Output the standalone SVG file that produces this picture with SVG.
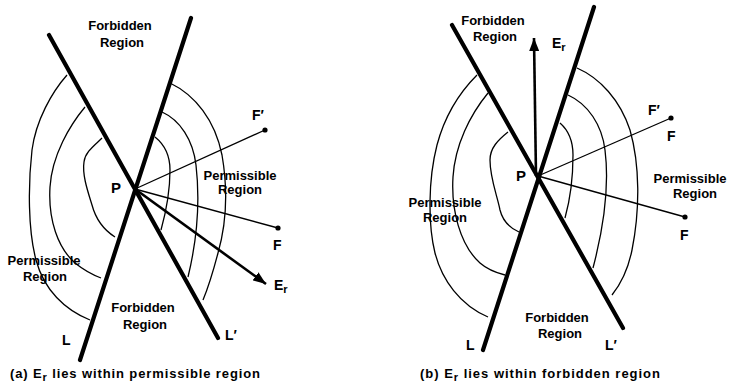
<svg xmlns="http://www.w3.org/2000/svg" width="733" height="384" viewBox="0 0 733 384">
<style>
.thick{stroke:#000;stroke-width:4.2;stroke-linecap:round;fill:none}
.thin{stroke:#000;stroke-width:1.3;fill:none}
.arr{stroke:#000;stroke-width:2.6;fill:none}
text{font-family:"Liberation Sans",Arial,sans-serif;font-weight:bold;fill:#000}
.lb{font-size:13px}
.mid{text-anchor:middle}
.ltr{font-size:14px}
.cap{font-size:13px}
</style>
<defs>
<marker id="ah" markerUnits="userSpaceOnUse" markerWidth="14" markerHeight="10" refX="13" refY="5" orient="auto">
<path d="M0,0 L13,5 L0,10 z" fill="#000"/>
</marker>
</defs>
<rect width="733" height="384" fill="#fff"/>

<g id="diagram-a">
<g id="contours-a">
<path class="thin" d="M67,75 C52,92 36,120 32,150 C28,185 28,230 36,260 C44,290 65,310 90,320"/>
<path class="thin" d="M85,107 C70,125 52,155 50,187 C48,220 58,248 75,263 C85,271 93,275 101,278"/>
<path class="thin" d="M102,138 C95,145 85,152 84,162 C82,175 88,192 92,205 C96,220 104,230 115,237"/>
<path class="thin" d="M170,83 C195,95 215,120 222,155 C228,190 226,225 218,253 C213,272 208,288 203,300"/>
<path class="thin" d="M162,112 C180,120 193,140 196,165 C200,200 197,240 188,277"/>
<path class="thin" d="M155,137 C165,145 170,155 170,170 C170,190 166,212 161,230"/>
</g>
<g id="connectors-a">
<line class="thin" x1="135" y1="189" x2="265" y2="130"/>
<line class="thin" x1="135" y1="189" x2="278" y2="228"/>
<line class="arr" x1="135" y1="189" x2="266" y2="284" marker-end="url(#ah)"/>
</g>
<g id="boundary-a">
<line class="thick" x1="49" y1="35" x2="218" y2="338"/>
<line class="thick" x1="191" y1="18" x2="80" y2="360"/>
</g>
<g id="points-a">
<circle cx="265" cy="130" r="2.6"/>
<circle cx="278" cy="228" r="2.6"/>
</g>
<g id="labels-a">
<text class="lb mid" x="120" y="30">Forbidden</text>
<text class="lb mid" x="122" y="47">Region</text>
<text class="lb mid" x="240" y="180">Permissible</text>
<text class="lb mid" x="240" y="194">Region</text>
<text class="lb mid" x="44" y="265">Permissible</text>
<text class="lb mid" x="45" y="281">Region</text>
<text class="lb mid" x="143" y="312">Forbidden</text>
<text class="lb mid" x="145" y="329">Region</text>
<text x="111" y="193" font-size="15">P</text>
<text class="ltr" x="252" y="120">F′</text>
<text class="ltr" x="273" y="250">F</text>
<text class="ltr" x="274" y="290">E<tspan font-size="11" dy="3">r</tspan></text>
<text class="ltr" x="62" y="345">L</text>
<text class="ltr" x="225" y="340">L′</text>
<text class="cap" x="10" y="378" textLength="250" lengthAdjust="spacing">(a) E<tspan font-size="11" dy="3">r</tspan><tspan dy="-3">  lies within permissible region</tspan></text>
</g>
</g>

<g id="diagram-b">
<g id="contours-b">
<path class="thin" d="M477,75 C460,92 445,115 437,145 C428,180 428,225 435,253 C442,280 460,305 488,317"/>
<path class="thin" d="M488,93 C470,115 455,145 453,177 C451,210 460,245 480,263 C488,270 497,273 505,275"/>
<path class="thin" d="M508,132 C498,140 490,148 490,160 C490,178 497,195 500,210 C503,222 510,228 519,232"/>
<path class="thin" d="M577,68 C600,78 620,100 630,130 C640,165 640,210 632,250 C628,270 620,285 612,295"/>
<path class="thin" d="M568,95 C588,104 602,125 605,150 C610,190 603,230 593,268"/>
<path class="thin" d="M560,123 C568,130 573,140 573,155 C573,175 570,200 565,218"/>
</g>
<g id="connectors-b">
<line class="thin" x1="538" y1="176" x2="671" y2="118"/>
<line class="thin" x1="538" y1="176" x2="685" y2="217"/>
<line class="arr" x1="536" y1="176" x2="534" y2="38" marker-end="url(#ah)"/>
</g>
<g id="boundary-b">
<line class="thick" x1="452" y1="25" x2="623" y2="328"/>
<line class="thick" x1="594" y1="7" x2="483" y2="350"/>
</g>
<g id="points-b">
<circle cx="671" cy="118" r="2.6"/>
<circle cx="685" cy="217" r="2.6"/>
</g>
<g id="labels-b">
<text class="lb mid" x="493" y="25">Forbidden</text>
<text class="lb mid" x="495" y="41">Region</text>
<text class="lb mid" x="690" y="183">Permissible</text>
<text class="lb mid" x="695" y="198">Region</text>
<text class="lb mid" x="445" y="207">Permissible</text>
<text class="lb mid" x="445" y="222">Region</text>
<text class="lb mid" x="557" y="322">Forbidden</text>
<text class="lb mid" x="560" y="338">Region</text>
<text x="516" y="181" font-size="15">P</text>
<text class="ltr" x="552" y="48">E<tspan font-size="11" dy="3">r</tspan></text>
<text class="ltr" x="648" y="115">F′</text>
<text class="ltr" x="667" y="141">F</text>
<text class="ltr" x="680" y="240">F</text>
<text class="ltr" x="466" y="350">L</text>
<text class="ltr" x="605" y="350">L′</text>
<text class="cap" x="420" y="378" textLength="240" lengthAdjust="spacing">(b) E<tspan font-size="11" dy="3">r</tspan><tspan dy="-3">  lies within forbidden region</tspan></text>
</g>
</g>
</svg>
